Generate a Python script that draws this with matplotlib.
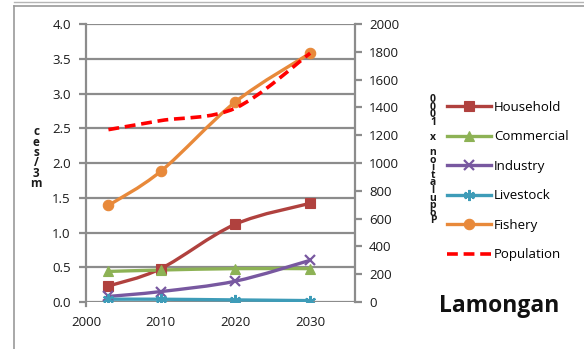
import matplotlib
matplotlib.use("Agg")
import matplotlib.pyplot as plt
from matplotlib.path import Path
from matplotlib.patches import PathPatch
from matplotlib.lines import Line2D
import numpy as np

# ---- data -------------------------------------------------------------
years = [2003, 2010, 2020, 2030]
household = [0.23, 0.48, 1.12, 1.42]
commercial = [0.44, 0.46, 0.48, 0.48]
industry = [0.08, 0.15, 0.30, 0.60]
livestock = [0.04, 0.04, 0.03, 0.02]
fishery = [1.39, 1.88, 2.88, 3.58]
population = [1240, 1305, 1395, 1790]

series_names = ["Household", "Commercial", "Industry", "Livestock", "Fishery"]
series_values = [household, commercial, industry, livestock, fishery]
series_colors = ["#B0413E", "#8DB255", "#7858A0", "#3E9CB8", "#E8893A"]
series_markers = ["s", "^", "x", (6, 2, 0), "o"]
series_msize = [7, 7, 7, 8, 7.5]

left_ticks = [0.0, 0.5, 1.0, 1.5, 2.0, 2.5, 3.0, 3.5, 4.0]
right_ticks = [0, 200, 400, 600, 800, 1000, 1200, 1400, 1600, 1800, 2000]
x_ticks = [2000, 2010, 2020, 2030]

GRID = "#8C8C8C"
FONT = "Open Sans"
plt.rcParams["font.family"] = [FONT, "DejaVu Sans"]


def smooth_path(xs, ys):
    """Cubic Bezier path through the points (Catmull-Rom style smoothing)."""
    pts = np.column_stack([xs, ys]).astype(float)
    n = len(pts)
    verts = [pts[0]]
    codes = [Path.MOVETO]
    for i in range(n - 1):
        p0 = pts[i - 1] if i > 0 else pts[i]
        p1 = pts[i]
        p2 = pts[i + 1]
        p3 = pts[i + 2] if i + 2 < n else pts[i + 1]
        c1 = p1 + (p2 - p0) / 6.0
        c2 = p2 - (p3 - p1) / 6.0
        verts += [c1, c2, p2]
        codes += [Path.CURVE4] * 3
    return Path(verts, codes)


fig = plt.figure(figsize=(5.84, 3.49), dpi=100)
ax = fig.add_axes([86 / 584, 1 - 302 / 349, (355 - 86) / 584, 278 / 349])
ax2 = ax.twinx()

ax.set_xlim(2000, 2036)
ax.set_ylim(0, 4.0)
ax2.set_ylim(0, 2000)

# horizontal grid
for v in left_ticks:
    ax.axhline(v, color=GRID, lw=1.6, zorder=1)

handles = []
for name, vals, col, mk, ms in zip(series_names, series_values, series_colors,
                                   series_markers, series_msize):
    patch = PathPatch(smooth_path(years, vals), facecolor="none", edgecolor=col,
                      lw=2.4, zorder=3, capstyle="round", joinstyle="round")
    ax.add_patch(patch)
    mew = 1.6 if mk in ("x", (6, 2, 0)) else 0.8
    ax.plot(years, vals, linestyle="none", marker=mk, markersize=ms, color=col,
            markeredgecolor=col, markeredgewidth=mew, zorder=4)
    handles.append(Line2D([], [], color=col, lw=2.4, marker=mk, markersize=ms,
                          markeredgewidth=mew, label=name))

pop_patch = PathPatch(smooth_path(years, population), facecolor="none",
                      edgecolor="#FF0000", lw=2.6, linestyle=(0, (3, 1.6)),
                      zorder=3)
ax2.add_patch(pop_patch)
handles.append(Line2D([], [], color="#FF0000", lw=2.6, linestyle=(0, (3, 1.6)),
                      label="Population"))

# axes styling
for a in (ax, ax2):
    for s in ("top", "bottom"):
        a.spines[s].set_visible(False)
ax.spines["right"].set_visible(False)
ax2.spines["left"].set_visible(False)
ax.spines["left"].set_color(GRID)
ax.spines["left"].set_linewidth(1.6)
ax.spines["left"].set_bounds(-0.06, 4.0)
ax2.spines["right"].set_color(GRID)
ax2.spines["right"].set_linewidth(1.6)

ax.set_yticks(left_ticks)
ax.set_yticklabels([f"{v:.1f}" for v in left_ticks])
ax.tick_params(axis="y", length=5, width=1.6, color=GRID, pad=6,
               labelsize=9.5, labelcolor="#1a1a1a")
ax.set_xticks(x_ticks)
ax.tick_params(axis="x", length=0, pad=10, labelsize=9.5, labelcolor="#1a1a1a")
ax2.set_yticks(right_ticks)
ax2.tick_params(axis="y", length=5, width=1.6, color=GRID, pad=5,
                labelsize=9.5, labelcolor="#1a1a1a")

# stacked axis titles
left_title = "m3/sec"
for i, ch in enumerate(left_title):
    fig.text(36 / 584, 1 - (184 - i * 10.5) / 349, ch, ha="center", va="center",
             fontsize=8.5, fontweight="bold", color="#1a1a1a")
right_title = "Population x 1000"
for i, ch in enumerate(right_title):
    if ch == " ":
        continue
    fig.text(433 / 584, 1 - (221 - i * 7.6) / 349, ch, ha="center", va="center",
             fontsize=7.5, fontweight="bold", color="#1a1a1a")

leg = fig.legend(handles=handles, loc="upper left",
                 bbox_to_anchor=(447 / 584, 1 - 101 / 349), frameon=False,
                 fontsize=9.5, handlelength=3.3, handletextpad=0.25,
                 labelspacing=1.25, borderaxespad=0, borderpad=0)

fig.text(499 / 584, 1 - 306 / 349, "Lamongan", ha="center", va="center",
         fontsize=16.5, fontweight="bold", color="#111111")

# chart frame
fig.add_artist(Line2D([14 / 584, 14 / 584], [0, 1 - 6 / 349],
                      transform=fig.transFigure, color="#9a9a9a", lw=1.2))
fig.add_artist(Line2D([14 / 584, 1], [1 - 6 / 349, 1 - 6 / 349],
                      transform=fig.transFigure, color="#9a9a9a", lw=1.2))
fig.add_artist(Line2D([14 / 584, 1], [1 - 2 / 349, 1 - 2 / 349],
                      transform=fig.transFigure, color="#b5b5b5", lw=1.0))

fig.savefig("out.png", dpi=100)
